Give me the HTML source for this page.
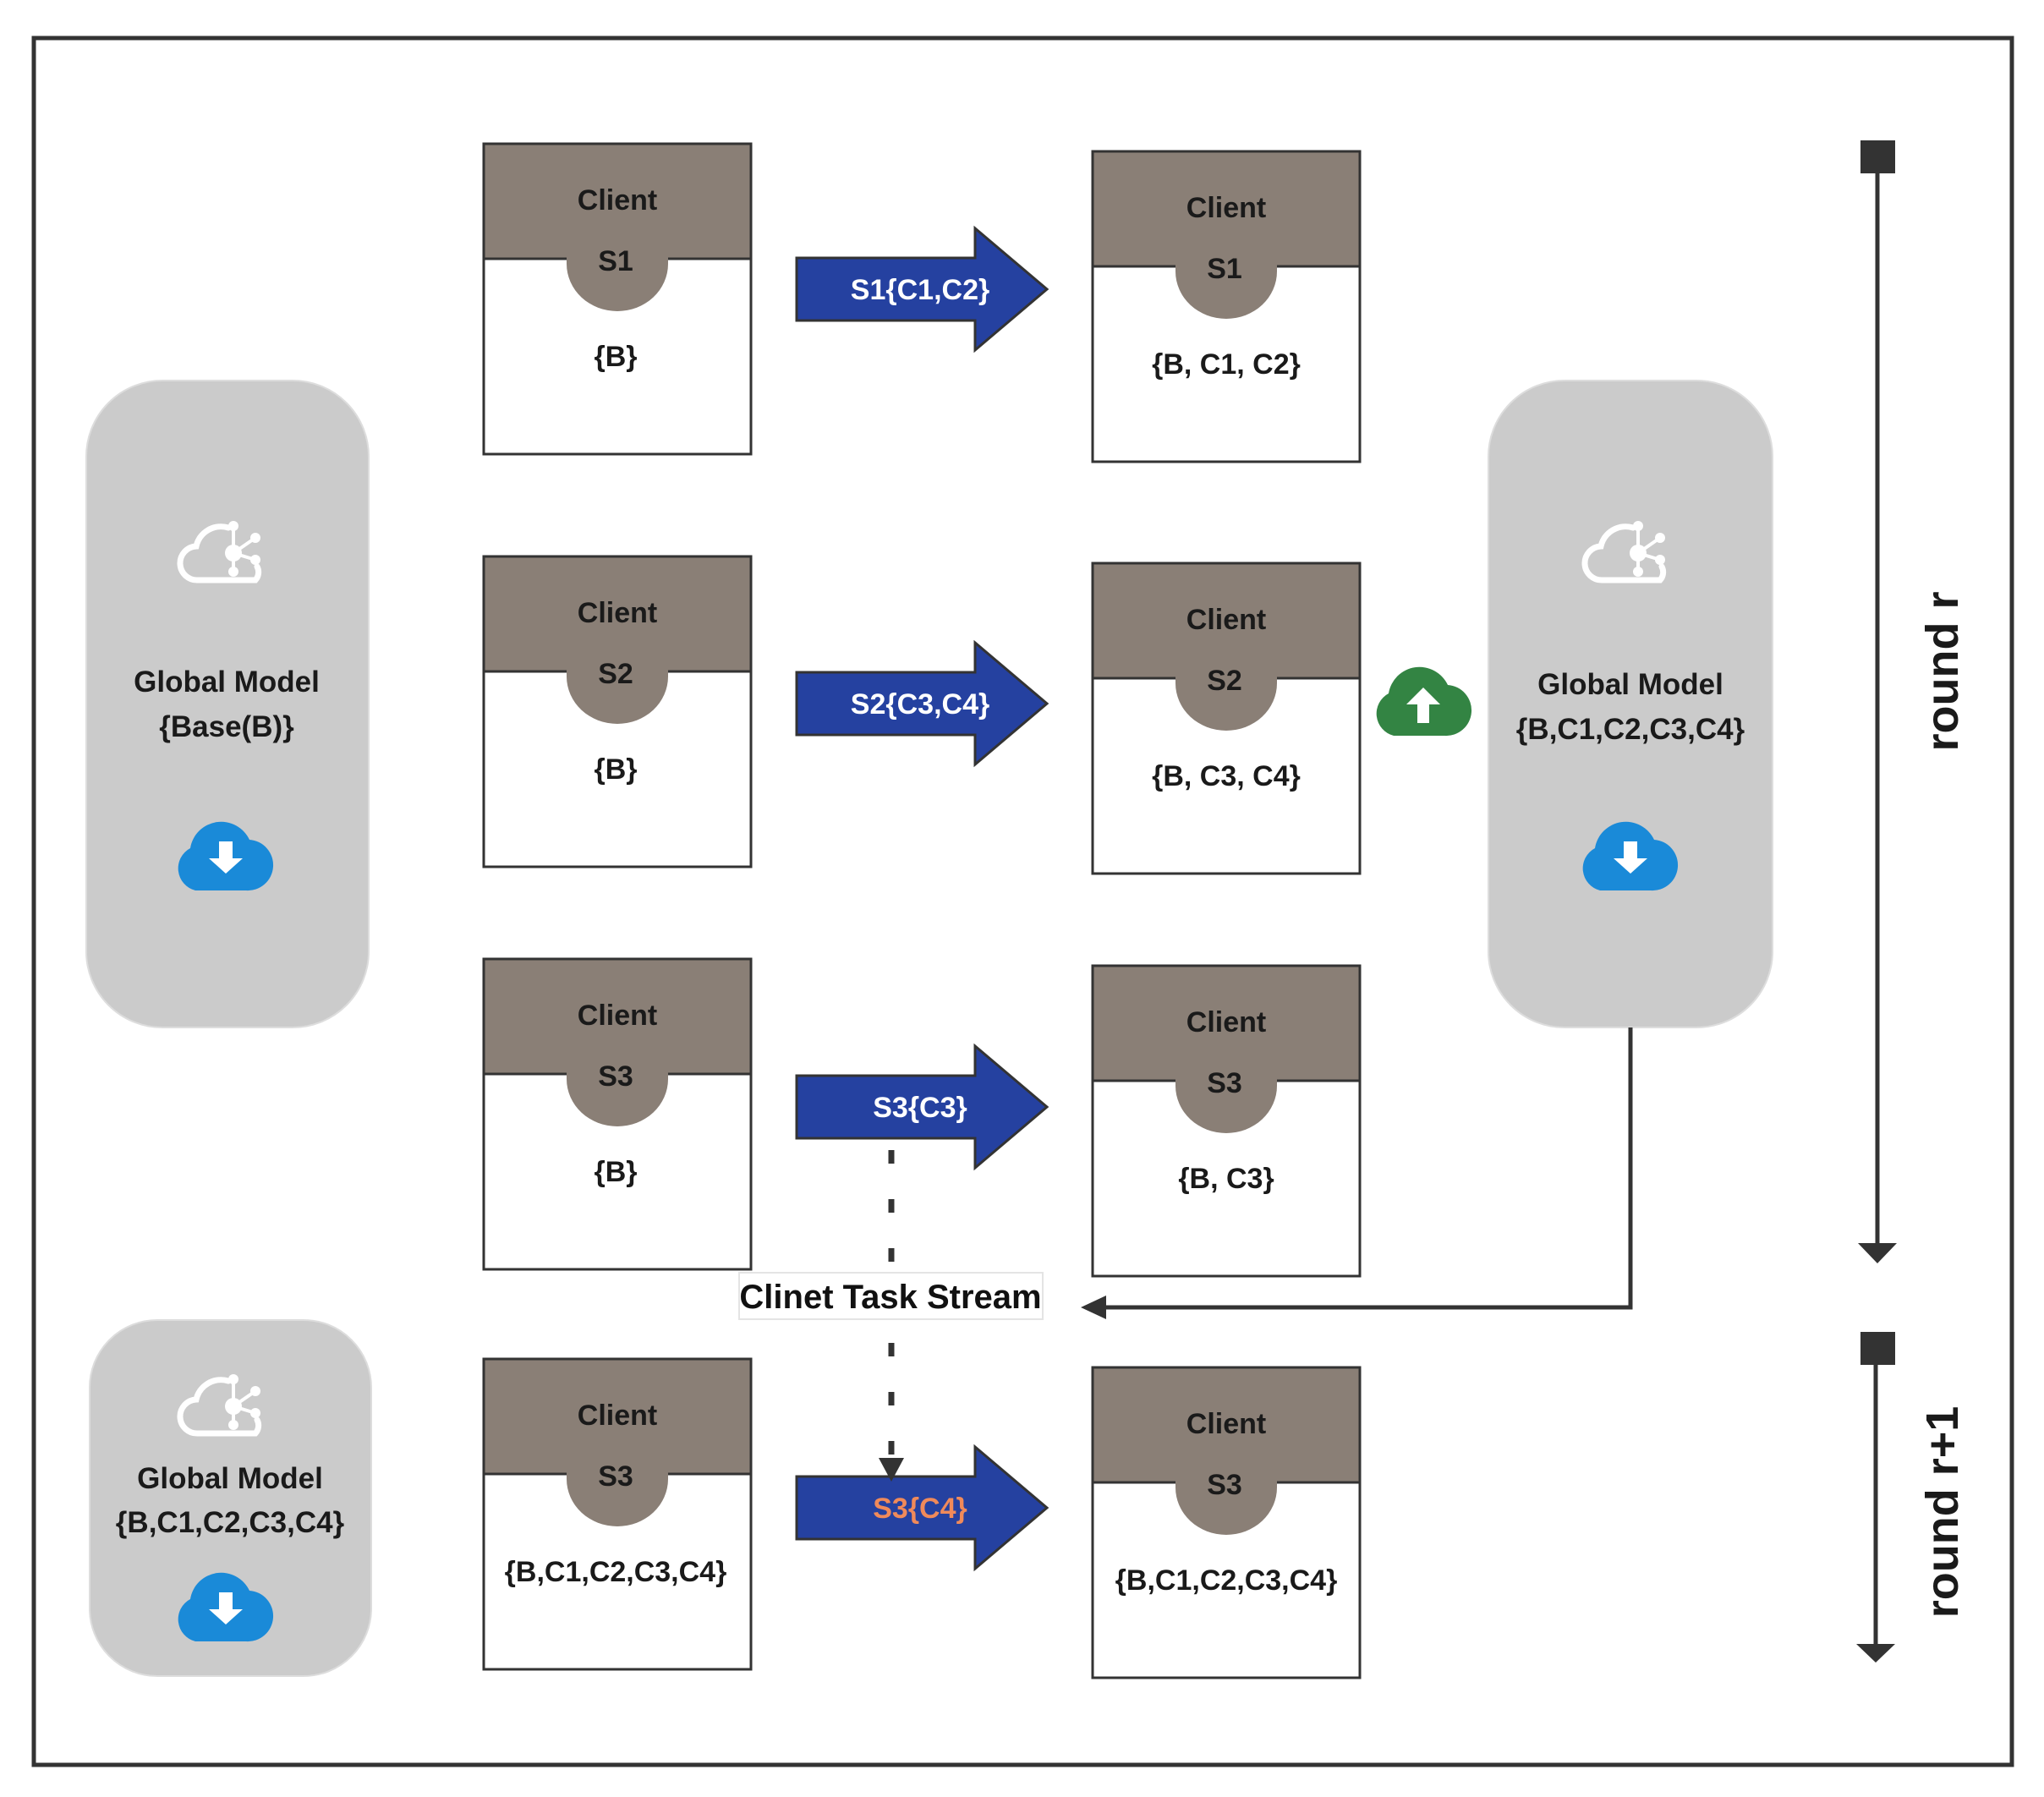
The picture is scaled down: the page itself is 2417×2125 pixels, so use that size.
<!DOCTYPE html>
<html><head><meta charset="utf-8"><style>
html,body{margin:0;padding:0;background:#fff;}
svg{display:block;}
text{font-family:"Liberation Sans","DejaVu Sans",sans-serif;font-weight:bold;}
</style></head><body>
<svg width="2417" height="2125" viewBox="0 0 2417 2125" xmlns="http://www.w3.org/2000/svg">
<defs>
<g id="cloudS"><path d="M-30,40 A27 27 0 0 1 -36,-10 A37 37 0 0 1 34,-20 A30 30 0 0 1 30,40 Z"/></g>
<g id="cloudO" fill="none" stroke="#fff" stroke-width="7" stroke-linecap="round">
<path d="M8,-26 A30 30 0 0 0 -30,-4 A20 20 0 0 0 -28,36 L40,36 A14 14 0 0 0 42,20"/>
<g fill="#fff" stroke="none"><circle cx="14" cy="4" r="10"/><circle cx="14" cy="-28" r="6"/><circle cx="40" cy="-14" r="6"/><circle cx="40" cy="12" r="6"/><circle cx="14" cy="26" r="6"/></g>
<path d="M14,4 L14,-28 M14,4 L40,-14 M14,4 L40,12 M14,4 L14,26" stroke-width="4"/>
</g>
</defs>
<rect x="40" y="45" width="2339" height="2042" fill="#fff" stroke="#333" stroke-width="5"/>

<rect x="102" y="450" width="334" height="765" rx="90" fill="#cbcbcb" stroke="#ddd" stroke-width="2"/>
<rect x="1760" y="450" width="336" height="765" rx="90" fill="#cbcbcb" stroke="#ddd" stroke-width="2"/>
<rect x="106" y="1561" width="333" height="421" rx="80" fill="#cbcbcb" stroke="#ddd" stroke-width="2"/>
<use href="#cloudO" transform="translate(262,650)"/>
<use href="#cloudO" transform="translate(1923,650)"/>
<use href="#cloudO" transform="translate(262,1659)"/>
<g font-size="35" fill="#1a1a1a" text-anchor="middle">
<text x="268" y="818">Global Model</text><text x="268" y="871" font-weight="normal">{Base(B)}</text>
<text x="1928" y="821">Global Model</text><text x="1928" y="874" font-weight="normal">{B,C1,C2,C3,C4}</text>
<text x="272" y="1760">Global Model</text><text x="272" y="1812" font-weight="normal">{B,C1,C2,C3,C4}</text>
</g>
<g fill="#1a8ad8">
<use href="#cloudS" transform="translate(261,1013)"/>
<use href="#cloudS" transform="translate(1922,1013)"/>
<use href="#cloudS" transform="translate(261,1901)"/>
</g>
<g fill="#fff">
<path d="M259,995 h16 v20 h12 l-20,18 -20,-18 h12 z"/>
<path d="M1920,995 h16 v20 h12 l-20,18 -20,-18 h12 z"/>
<path d="M259,1883 h16 v20 h12 l-20,18 -20,-18 h12 z"/>
</g>
<g fill="#338443"><use href="#cloudS" transform="translate(1678,830)"/></g>
<path d="M1676,855 v-22 h-13 l20,-20 20,20 h-13 v22 z" fill="#fff"/>

<g stroke="#333" stroke-width="3">
<rect x="572" y="170" width="316" height="367" fill="#fff"/><rect x="572" y="170" width="316" height="136" fill="#8a7f76"/>
<rect x="572" y="658" width="316" height="367" fill="#fff"/><rect x="572" y="658" width="316" height="136" fill="#8a7f76"/>
<rect x="572" y="1134" width="316" height="367" fill="#fff"/><rect x="572" y="1134" width="316" height="136" fill="#8a7f76"/>
<rect x="572" y="1607" width="316" height="367" fill="#fff"/><rect x="572" y="1607" width="316" height="136" fill="#8a7f76"/>
<rect x="1292" y="179" width="316" height="367" fill="#fff"/><rect x="1292" y="179" width="316" height="136" fill="#8a7f76"/>
<rect x="1292" y="666" width="316" height="367" fill="#fff"/><rect x="1292" y="666" width="316" height="136" fill="#8a7f76"/>
<rect x="1292" y="1142" width="316" height="367" fill="#fff"/><rect x="1292" y="1142" width="316" height="136" fill="#8a7f76"/>
<rect x="1292" y="1617" width="316" height="367" fill="#fff"/><rect x="1292" y="1617" width="316" height="136" fill="#8a7f76"/>
</g>
<g fill="#8a7f76">
<path d="M670,304 v8 a60 56 0 0 0 120,0 v-8 z"/>
<path d="M670,792 v8 a60 56 0 0 0 120,0 v-8 z"/>
<path d="M670,1268 v8 a60 56 0 0 0 120,0 v-8 z"/>
<path d="M670,1741 v8 a60 56 0 0 0 120,0 v-8 z"/>
<path d="M1390,313 v8 a60 56 0 0 0 120,0 v-8 z"/>
<path d="M1390,800 v8 a60 56 0 0 0 120,0 v-8 z"/>
<path d="M1390,1276 v8 a60 56 0 0 0 120,0 v-8 z"/>
<path d="M1390,1751 v8 a60 56 0 0 0 120,0 v-8 z"/>
</g>
<g font-size="34" fill="#1a1a1a" text-anchor="middle">
<text x="730" y="248">Client</text><text x="728" y="320">S1</text><text x="728" y="433" font-weight="normal">{B}</text>
<text x="730" y="736">Client</text><text x="728" y="808">S2</text><text x="728" y="921" font-weight="normal">{B}</text>
<text x="730" y="1212">Client</text><text x="728" y="1284">S3</text><text x="728" y="1397" font-weight="normal">{B}</text>
<text x="730" y="1685">Client</text><text x="728" y="1757">S3</text><text x="728" y="1870" font-weight="normal">{B,C1,C2,C3,C4}</text>
<text x="1450" y="257">Client</text><text x="1448" y="329">S1</text><text x="1450" y="442" font-weight="normal">{B, C1, C2}</text>
<text x="1450" y="744">Client</text><text x="1448" y="816">S2</text><text x="1450" y="929" font-weight="normal">{B, C3, C4}</text>
<text x="1450" y="1220">Client</text><text x="1448" y="1292">S3</text><text x="1450" y="1405" font-weight="normal">{B, C3}</text>
<text x="1450" y="1695">Client</text><text x="1448" y="1767">S3</text><text x="1450" y="1880" font-weight="normal">{B,C1,C2,C3,C4}</text>
</g>

<g fill="#2541a0" stroke="#333" stroke-width="3">
<polygon points="942,305 1153,305 1153,270 1238,342 1153,414 1153,379 942,379"/>
<polygon points="942,795 1153,795 1153,760 1238,832 1153,904 1153,869 942,869"/>
<polygon points="942,1272 1153,1272 1153,1237 1238,1309 1153,1381 1153,1346 942,1346"/>
<polygon points="942,1746 1153,1746 1153,1711 1238,1783 1153,1855 1153,1820 942,1820"/>
</g>
<g font-size="34" fill="#fff" text-anchor="middle">
<text x="1088" y="354">S1{C1,C2}</text>
<text x="1088" y="844">S2{C3,C4}</text>
<text x="1088" y="1321">S3{C3}</text>
<text x="1088" y="1795" fill="#f08a5a">S3{C4}</text>
</g>

<path d="M1928,1215 V1546 H1300" fill="none" stroke="#333" stroke-width="5"/>
<polygon points="1278,1546 1308,1532 1308,1560" fill="#333"/>
<line x1="1054" y1="1360" x2="1054" y2="1500" stroke="#333" stroke-width="7" stroke-dasharray="16,42"/>
<line x1="1054" y1="1588" x2="1054" y2="1730" stroke="#333" stroke-width="7" stroke-dasharray="16,42"/>
<polygon points="1039,1724 1069,1724 1054,1752" fill="#333"/>
<rect x="874" y="1505" width="359" height="55" fill="#fff" stroke="#e4e4e4" stroke-width="2"/>
<text x="1053" y="1547" font-size="40" text-anchor="middle" fill="#111" font-weight="normal">Clinet Task Stream</text>

<rect x="2200" y="166" width="41" height="39" fill="#333"/>
<line x1="2220" y1="200" x2="2220" y2="1475" stroke="#333" stroke-width="5"/>
<polygon points="2197,1470 2243,1470 2220,1494" fill="#333"/>
<rect x="2200" y="1575" width="41" height="39" fill="#333"/>
<line x1="2218" y1="1610" x2="2218" y2="1948" stroke="#333" stroke-width="5"/>
<polygon points="2195,1944 2241,1944 2218,1966" fill="#333"/>
<text transform="translate(2315,794) rotate(-90)" font-size="54" text-anchor="middle" fill="#1a1a1a">round r</text>
<text transform="translate(2315,1788) rotate(-90)" font-size="54" text-anchor="middle" fill="#1a1a1a">round r+1</text>
</svg>
</body></html>
